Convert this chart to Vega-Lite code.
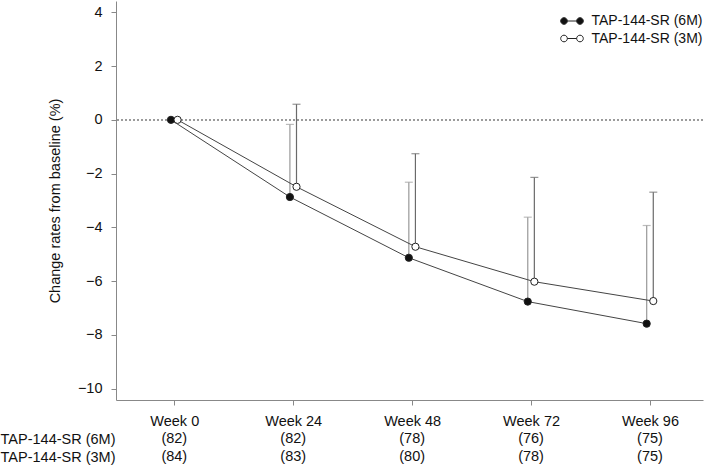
{
  "$schema": "https://vega.github.io/schema/vega-lite/v6.json",
  "padding": {"left": 0, "top": 1, "right": 0, "bottom": 0},
  "autosize": {"type": "pad"},
  "bounds": "flush",
  "spacing": 30,
  "config": {
    "font": "Liberation Sans",
    "view": {"stroke": null},
    "axis": {"grid": false, "domainColor": "#888", "tickColor": "#888", "labelColor": "#111", "labelFontSize": 14.5, "titleFontSize": 14.5, "titleFontWeight": "normal", "titleColor": "#111", "tickSize": 5}
  },
  "datasets": {
    "main": [
      {"week": 0, "arm": "TAP-144-SR (6M)", "mean": 0, "upper": null},
      {"week": 24, "arm": "TAP-144-SR (6M)", "mean": -2.87, "upper": -0.17},
      {"week": 48, "arm": "TAP-144-SR (6M)", "mean": -5.13, "upper": -2.32},
      {"week": 72, "arm": "TAP-144-SR (6M)", "mean": -6.76, "upper": -3.62},
      {"week": 96, "arm": "TAP-144-SR (6M)", "mean": -7.58, "upper": -3.93},
      {"week": 0, "arm": "TAP-144-SR (3M)", "mean": 0, "upper": null},
      {"week": 24, "arm": "TAP-144-SR (3M)", "mean": -2.49, "upper": 0.58},
      {"week": 48, "arm": "TAP-144-SR (3M)", "mean": -4.72, "upper": -1.26},
      {"week": 72, "arm": "TAP-144-SR (3M)", "mean": -6.02, "upper": -2.14},
      {"week": 96, "arm": "TAP-144-SR (3M)", "mean": -6.74, "upper": -2.69}
    ],
    "counts": [
      {"week": 0, "arm": "TAP-144-SR (6M)", "n": 82},
      {"week": 24, "arm": "TAP-144-SR (6M)", "n": 82},
      {"week": 48, "arm": "TAP-144-SR (6M)", "n": 78},
      {"week": 72, "arm": "TAP-144-SR (6M)", "n": 76},
      {"week": 96, "arm": "TAP-144-SR (6M)", "n": 75},
      {"week": 0, "arm": "TAP-144-SR (3M)", "n": 84},
      {"week": 24, "arm": "TAP-144-SR (3M)", "n": 83},
      {"week": 48, "arm": "TAP-144-SR (3M)", "n": 80},
      {"week": 72, "arm": "TAP-144-SR (3M)", "n": 78},
      {"week": 96, "arm": "TAP-144-SR (3M)", "n": 75}
    ]
  },
  "vconcat": [
    {
      "width": 587,
      "height": 399,
      "data": {"name": "main"},
      "encoding": {
        "x": {"field": "week", "type": "quantitative",
          "scale": {"domain": [-11.76, 106.7], "nice": false, "zero": false},
          "axis": {"values": [0, 24, 48, 72, 96], "labelExpr": "'Week ' + datum.value", "title": null, "labelPadding": 9}},
        "y": {"field": "mean", "type": "quantitative",
          "scale": {"domain": [-10.42, 4.42], "nice": false, "zero": false},
          "axis": {"values": [-10, -8, -6, -4, -2, 0, 2, 4], "title": "Change rates from baseline (%)", "labelPadding": 9, "titlePadding": 15}}
      },
      "layer": [
        {"mark": {"type": "rule", "color": "#9a9a9a", "strokeDash": [2, 2], "strokeWidth": 1}, "encoding": {"y": {"datum": 0}, "x": null}},
        {"transform": [{"filter": "datum.upper != null && datum.arm == 'TAP-144-SR (6M)'"}],
         "mark": {"type": "rule", "color": "#a0a0a0", "strokeWidth": 1.3, "xOffset": -3.3},
         "encoding": {"y2": {"field": "upper"}}},
        {"transform": [{"filter": "datum.upper != null && datum.arm == 'TAP-144-SR (6M)'"}],
         "mark": {"type": "tick", "color": "#a0a0a0", "orient": "horizontal", "size": 8, "thickness": 1.2, "xOffset": -3.3},
         "encoding": {"y": {"field": "upper", "type": "quantitative"}}},
        {"transform": [{"filter": "datum.upper != null && datum.arm == 'TAP-144-SR (3M)'"}],
         "mark": {"type": "rule", "color": "#6a6a6a", "strokeWidth": 1.2, "xOffset": 3.3},
         "encoding": {"y2": {"field": "upper"}}},
        {"transform": [{"filter": "datum.upper != null && datum.arm == 'TAP-144-SR (3M)'"}],
         "mark": {"type": "tick", "color": "#6a6a6a", "orient": "horizontal", "size": 8, "thickness": 1.2, "xOffset": 3.3},
         "encoding": {"y": {"field": "upper", "type": "quantitative"}}},
        {"transform": [{"filter": "datum.arm == 'TAP-144-SR (6M)'"}],
         "mark": {"type": "line", "color": "#444", "strokeWidth": 1, "xOffset": -3.3}},
        {"transform": [{"filter": "datum.arm == 'TAP-144-SR (3M)'"}],
         "mark": {"type": "line", "color": "#444", "strokeWidth": 1, "xOffset": 3.3}},
        {"transform": [{"filter": "datum.arm == 'TAP-144-SR (6M)'"}],
         "mark": {"type": "circle", "size": 52, "opacity": 1, "stroke": "#222", "strokeWidth": 1, "xOffset": -3.3},
         "encoding": {"fill": {"field": "arm", "type": "nominal",
           "scale": {"domain": ["TAP-144-SR (6M)", "TAP-144-SR (3M)"], "range": ["#111111", "#ffffff"]},
           "legend": {"orient": "none", "legendX": 447, "legendY": 11, "title": null, "labelFontSize": 14, "labelColor": "#111",
             "symbolType": "M-1.33,0A0.39,0.39,0,1,0,-0.55,0A0.39,0.39,0,1,0,-1.33,0Z M-0.55,0L0.55,0 M0.55,0A0.39,0.39,0,1,0,1.33,0A0.39,0.39,0,1,0,0.55,0Z",
             "symbolSize": 289, "labelOffset": 10.5, "rowPadding": 1.5, "padding": 0, "symbolStrokeColor": "#222", "symbolStrokeWidth": 1}}}},
        {"transform": [{"filter": "datum.arm == 'TAP-144-SR (3M)'"}],
         "mark": {"type": "circle", "size": 52, "opacity": 1, "stroke": "#222", "strokeWidth": 1, "xOffset": 3.3},
         "encoding": {"fill": {"field": "arm", "type": "nominal"}}}
      ]
    },
    {
      "width": 587,
      "height": 36,
      "data": {"name": "counts"},
      "transform": [{"calculate": "'(' + datum.n + ')'", "as": "label"}],
      "mark": {"type": "text", "fontSize": 14.5, "color": "#111"},
      "encoding": {
        "x": {"field": "week", "type": "quantitative", "scale": {"domain": [-11.76, 106.7], "nice": false, "zero": false}, "axis": null},
        "y": {"field": "arm", "type": "nominal", "sort": ["TAP-144-SR (6M)", "TAP-144-SR (3M)"],
          "axis": {"title": null, "domain": false, "ticks": false, "labelPadding": 1, "labelFontSize": 14.5}},
        "text": {"field": "label"}
      }
    }
  ]
}
